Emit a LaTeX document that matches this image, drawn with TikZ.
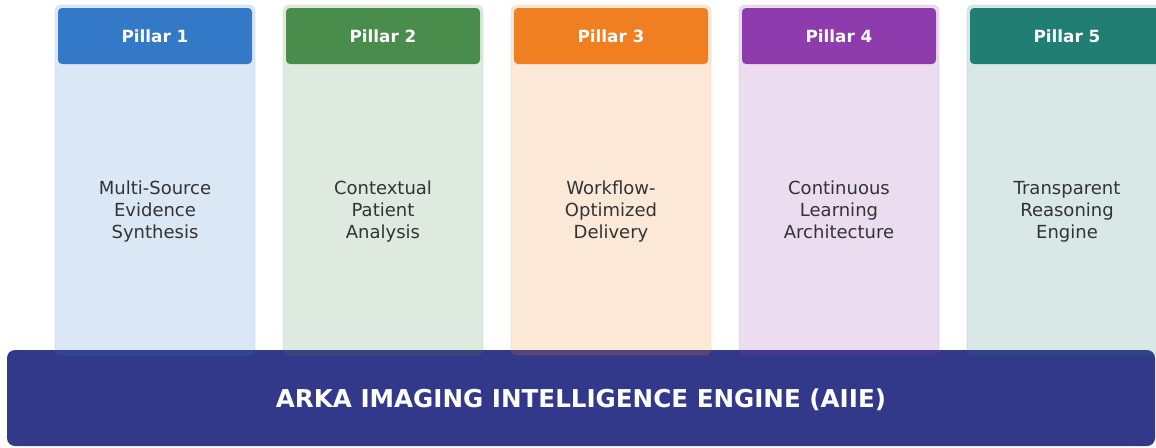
\documentclass[tikz,border=0pt]{standalone}
\usepackage{fontspec}
\setmainfont{DejaVu Sans}
\usetikzlibrary{positioning}

\definecolor{barnavy}{RGB}{51,57,138}
\definecolor{pblue}{RGB}{52,120,200}
\definecolor{pgreen}{RGB}{74,140,76}
\definecolor{porange}{RGB}{240,127,34}
\definecolor{ppurple}{RGB}{142,59,173}
\definecolor{pteal}{RGB}{32,126,115}
\definecolor{bodytext}{RGB}{51,51,51}

\tikzset{
  pillarbody/.style={rectangle, rounded corners=6pt, minimum width=200pt,
    minimum height=350pt, inner sep=0pt, fill=#1, fill opacity=0.18,
    draw=#1, draw opacity=0.08, line width=1.2pt},
  pillarhead/.style={rectangle, rounded corners=4pt, minimum width=194pt,
    minimum height=56pt, inner sep=0pt, fill=#1, text=white,
    font=\fontsize{16.8}{20}\selectfont\bfseries},
  pillartext/.style={align=center, text=bodytext, inner sep=0pt,
    font=\fontsize{18}{22}\selectfont,
    execute at begin node=\strut, execute at end node=\strut},
  enginebar/.style={rectangle, rounded corners=8pt, minimum width=1148pt,
    minimum height=96pt, inner sep=0pt, fill=barnavy, text=white,
    text height=19pt, text depth=0pt,
    font=\fontsize{24.6}{28}\selectfont\bfseries},
}

\begin{document}
\begin{tikzpicture}[x=1pt,y=-1pt]
  \useasboundingbox (0,0) rectangle (1156,447);
  \clip (0,0) rectangle (1156,447);

  % foundation bar
  \node[enginebar] (engine) at (581,398) {ARKA IMAGING INTELLIGENCE ENGINE (AIIE)};

  % five pillars standing on the bar
  \foreach \i/\cx/\col/\txt in {
      1/155/pblue/{Multi-Source\\Evidence\\Synthesis},
      2/383/pgreen/{Contextual\\Patient\\Analysis},
      3/611/porange/{Workflow-\\Optimized\\Delivery},
      4/839/ppurple/{Continuous\\Learning\\Architecture},
      5/1067/pteal/{Transparent\\Reasoning\\Engine}} {
    \node[pillarbody=\col] (body\i) at (\cx,180) {};
    \node[pillarhead=\col] (head\i) at (\cx,36) {Pillar \i};
    \node[pillartext] (desc\i) at (\cx,213) {\txt};
  }
\end{tikzpicture}
\end{document}
